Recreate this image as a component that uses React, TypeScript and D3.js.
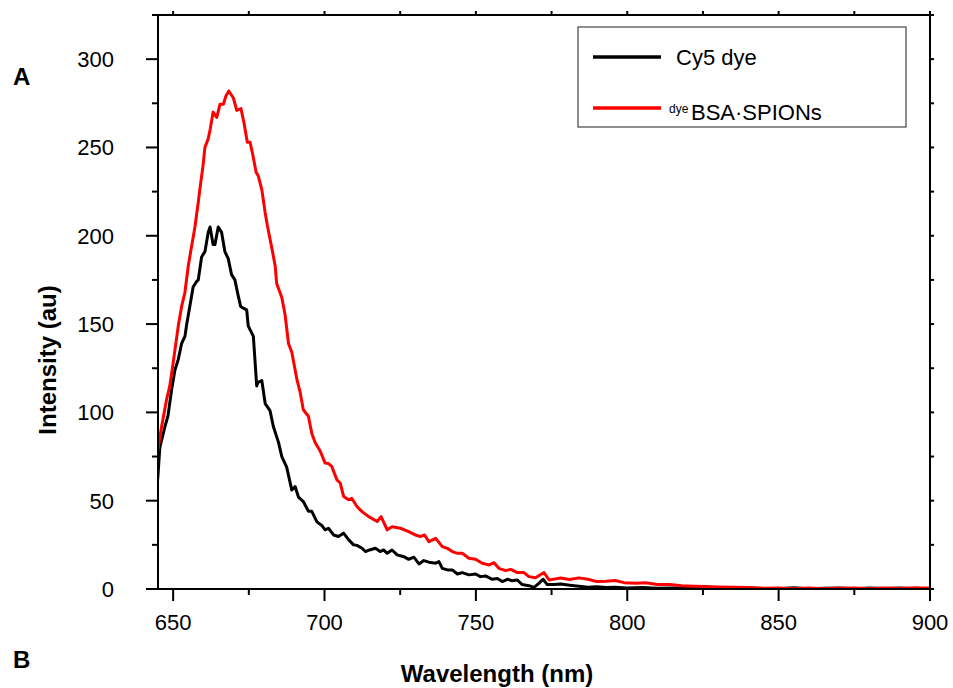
import React from "react";
import * as d3 from "d3";

// ---- Data ----
const cy5Wavelength = [
  644.9, 645.6, 647.3, 648.3, 649.5, 650.6, 651.7, 652.8, 653.9, 654.4, 655.5, 656.6, 657.7, 658.3, 659.4, 660.5,
  661.6, 662.2, 663.2, 663.8, 664.9, 666, 667.1, 668.2, 669.3, 670.4, 671.5, 672.3, 673.2, 674.3, 674.8, 676.5,
  677.6, 678, 679.3, 680.4, 682, 683.1, 684.8, 685.9, 687.5, 689.2, 690.3, 691.4, 693, 694.7, 695.8, 697.5,
  699.1, 700.2, 701.3, 703, 704.6, 706.3, 708, 709.6, 710.7, 712.4, 713.5, 714.9, 716.8, 718.4, 719.5, 720.7,
  722.3, 724, 726.2, 727.8, 729.5, 731.2, 732.8, 734.5, 736.7, 737.8, 738.9, 740.6, 742.2, 743.9, 745.5, 747.7,
  749.9, 751.5, 753.2, 755.4, 757.1, 758.7, 760.4, 762, 763.7, 765.3, 767.5, 769.2, 770.8, 772.2, 773.6, 775.8,
  778, 781, 784, 787, 790, 793, 796, 800, 805, 810, 815, 820, 825, 830, 835, 838, 840, 845, 850, 855, 860, 865,
  870, 875, 880, 885, 890, 895, 900,
];
const cy5Intensity = [
  62, 80, 92, 98, 113, 124, 130, 139, 143, 149, 160, 171, 174, 175, 188, 191,
  202, 205, 195, 195, 205, 202, 191, 187, 178, 175, 166, 160, 159, 158, 149, 143,
  115, 117, 118, 105, 101, 92, 83, 75, 69, 56, 58, 52, 49.5, 44, 44, 38,
  36, 33.5, 34.4, 30.6, 29.7, 31.6, 27.8, 25, 24.7, 23.1, 21.2, 22.1, 23.1, 21.2, 22.1, 20.2,
  22.1, 19.3, 18.3, 16.8, 18, 14.2, 16.1, 15.2, 14.6, 15.5, 11.7, 10.8, 10.8, 8.5, 9.3, 8,
  8.5, 7, 7.4, 5.5, 6, 4.2, 5.5, 4.7, 5.1, 2.5, 1.9, 0.9, 3.2, 5.5, 2.5, 2.5,
  2.8, 2.1, 1.5, 1.0, 1.3, 0.8, 1.0, 0.6, 0.8, 0.4, 0.6, 0.3, 0.5, 0.2, 0.4, -0.5, 0.6, 0.3, 0.2, 0.7, 0.1, 0.4,
  0.6, 0.2, 0.5, 0.3, 0.6, 0.2, 0.4,
];

const bsaWavelength = [
  644.5, 646.2, 647.8, 648.9, 650, 651.7, 652.8, 653.9, 655, 656.1, 657.2, 658.3, 658.8, 659.9, 660.5, 661.6,
  662.2, 663.2, 664.4, 665.5, 666.6, 667.4, 668.4, 669.9, 671, 672.4, 673.4, 674.5, 675.4, 676.3, 677.4, 678.1,
  679.3, 680.4, 681.1, 682.6, 683.7, 684.2, 685.9, 687, 688.1, 689.2, 690.9, 692, 693, 694.7, 695.8, 696.9,
  698.6, 700.2, 701.3, 702.4, 704.1, 705.2, 706.3, 708, 709, 710.7, 712.4, 714.6, 717.4, 718.7, 720.7, 722.3,
  725.1, 727.8, 730, 731.7, 733, 734.5, 736.7, 738.9, 740.6, 742.2, 743.9, 745.5, 747.7, 749.9, 752.1, 754.4,
  756, 757.6, 759.8, 761.5, 763.7, 765.9, 767.5, 769.7, 772.5, 774.2, 775.8, 778, 781, 784, 787, 790,
  793, 796, 799, 803, 806, 810, 814, 818, 822, 826, 830, 835, 840, 845, 850, 855, 860, 865, 870, 875,
  880, 885, 890, 895, 900,
];
const bsaIntensity = [
  74, 92, 107, 115, 128, 149, 160, 168, 183, 194, 205, 219, 226, 240, 250, 255,
  260, 270, 267, 274.5, 274.5, 279, 282, 278, 271, 272, 264, 253, 253, 246, 236, 234,
  226, 213, 206, 193, 183, 173, 165, 155, 139, 134, 118.5, 111, 101.5, 97.7, 88, 83,
  78, 71.3, 71, 69.4, 61.8, 60, 52.4, 50.5, 51.4, 46.7, 43.8, 41, 38.2, 41, 33.5, 35.3,
  34.4, 32.5, 30.6, 29.7, 30.6, 26.8, 28.7, 24, 23, 21.2, 20.2, 20.2, 17.4, 16.8, 14.6, 13.6,
  14.9, 11.7, 10.4, 11.1, 9.3, 9.3, 7, 6.4, 9.3, 5.1, 5.6, 6.2, 5.4, 6.3, 5.5, 4.2,
  4.4, 4.8, 3.6, 3.3, 3.6, 2.6, 2.5, 1.9, 1.6, 1.4, 1.2, 1.0, 0.8, 0.4, 0.6, 0.2, 0.5, 0.1, 0.4, 0.5,
  0.2, 0.6, 0.3, 0.7, 0.4,
];

const xTicks = [650, 700, 750, 800, 850, 900];
const yTicks = [0, 50, 100, 150, 200, 250, 300];
const seriesNames = ["Cy5 dye", "BSA·SPIONs"];
const seriesColors = ["#000000", "#ff0000"];

export default function App() {
  const W = 953;
  const H = 688;
  const left = 158, right = 930, top = 15, bottom = 589;
  const x = d3.scaleLinear().domain([645, 900]).range([left, right]);
  const y = d3.scaleLinear().domain([0, 325]).range([bottom, top]);

  const line = d3
    .line<[number, number]>()
    .x((d) => x(d[0]))
    .y((d) => y(d[1]));

  const cy5: [number, number][] = cy5Wavelength.map((w, i) => [w, cy5Intensity[i]]);
  const bsa: [number, number][] = bsaWavelength.map((w, i) => [w, bsaIntensity[i]]);

  const xMinor = d3.range(650, 901, 25);
  const yMinor = d3.range(0, 326, 25);
  const font = "'Liberation Sans', Arial, sans-serif";

  return (
    <svg
      width={W}
      height={H}
      style={{ position: "absolute", left: 0, top: 0, background: "#fff" }}
      fontFamily={font}
    >
      <rect x={0} y={0} width={W} height={H} fill="#fff" />
      <defs>
        <clipPath id="plotClip">
          <rect x={left} y={top} width={right - left} height={bottom - top} />
        </clipPath>
      </defs>

      {/* curves */}
      <g clipPath="url(#plotClip)" fill="none" strokeLinejoin="round">
        <path d={line(cy5) || ""} stroke={seriesColors[0]} strokeWidth={3} />
        <path d={line(bsa) || ""} stroke={seriesColors[1]} strokeWidth={3} />
      </g>

      {/* frame */}
      <g stroke="#000" strokeWidth={2}>
        <line x1={left} x2={left} y1={top} y2={bottom} />
        <line x1={left} x2={right} y1={bottom} y2={bottom} />
        <line x1={left} x2={right} y1={top} y2={top} />
        <line x1={right} x2={right} y1={top} y2={bottom} />
        {yMinor.map((v) => (
          <line key={"yl" + v} x1={left} x2={left - (v % 50 === 0 ? 12 : 6)} y1={y(v)} y2={y(v)} />
        ))}
        {yMinor.map((v) => (
          <line key={"yr" + v} x1={right} x2={right + 4} y1={y(v)} y2={y(v)} />
        ))}
        {xMinor.map((v) => (
          <line key={"xb" + v} x1={x(v)} x2={x(v)} y1={bottom} y2={bottom + (v % 50 === 0 ? 12 : 6)} />
        ))}
        {xMinor.map((v) => (
          <line key={"xt" + v} x1={x(v)} x2={x(v)} y1={top} y2={top - 4} />
        ))}
      </g>

      {/* tick labels */}
      <g fontSize={22} fill="#000">
        {yTicks.map((v) => (
          <text key={"ytl" + v} x={114} y={y(v) + 8} textAnchor="end">
            {v}
          </text>
        ))}
        {xTicks.map((v) => (
          <text key={"xtl" + v} x={x(v)} y={630} textAnchor="middle">
            {v}
          </text>
        ))}
      </g>

      {/* axis titles */}
      <text x={497} y={682} textAnchor="middle" fontSize={24} fontWeight="bold">
        Wavelength (nm)
      </text>
      <text
        transform="translate(56, 360) rotate(-90)"
        textAnchor="middle"
        fontSize={24}
        fontWeight="bold"
      >
        Intensity (au)
      </text>

      {/* panel labels */}
      <text x={13} y={85} fontSize={24} fontWeight="bold">A</text>
      <text x={13} y={668} fontSize={24} fontWeight="bold">B</text>

      {/* legend */}
      <rect x={578} y={27} width={328} height={100} fill="#fff" stroke="#444" strokeWidth={1.2} />
      <line x1={593} x2={661} y1={57} y2={57} stroke={seriesColors[0]} strokeWidth={3.5} />
      <text x={676} y={65} fontSize={22}>{seriesNames[0]}</text>
      <line x1={593} x2={661} y1={108} y2={108} stroke={seriesColors[1]} strokeWidth={3.5} />
      <text x={669} y={113} fontSize={12}>dye</text>
      <text x={691} y={120} fontSize={22}>{seriesNames[1]}</text>
    </svg>
  );
}
